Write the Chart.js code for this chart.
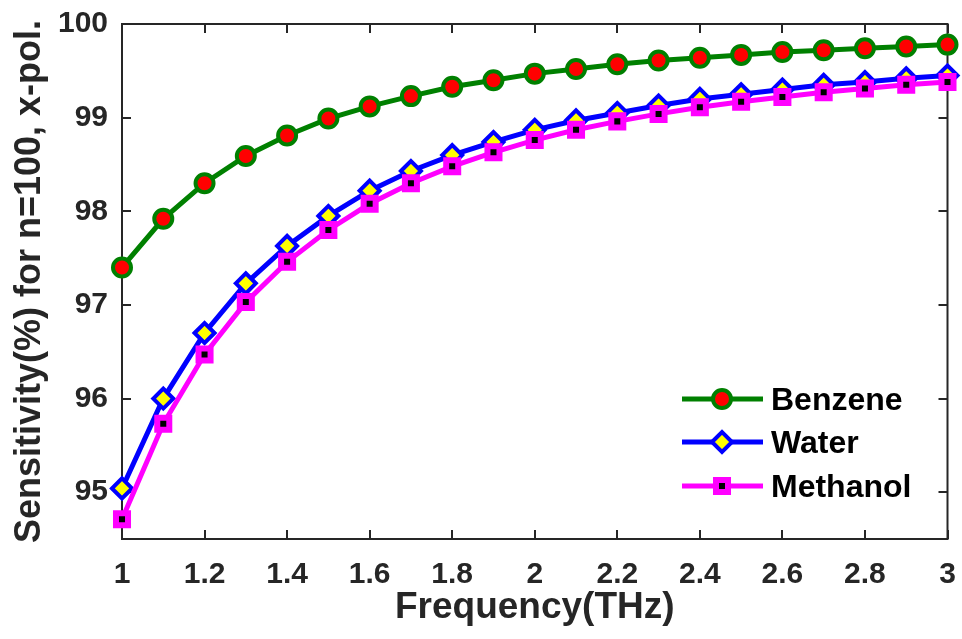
<!DOCTYPE html>
<html>
<head>
<meta charset="utf-8">
<script src="https://cdn.jsdelivr.net/npm/chart.js@4.4.0/dist/chart.umd.min.js"></script>
<style>
  html, body { margin: 0; padding: 0; background: #ffffff; }
  #wrap { width: 962px; height: 639px; position: relative; }
</style>
</head>
<body>
<div id="wrap"><canvas id="c" width="962" height="639"></canvas></div>
<script>
const freq = [1.0, 1.1, 1.2, 1.3, 1.4, 1.5, 1.6, 1.7, 1.8, 1.9, 2.0, 2.1, 2.2, 2.3, 2.4, 2.5, 2.6, 2.7, 2.8, 2.9, 3.0];
const benzene = [97.40, 97.92, 98.30, 98.59, 98.81, 98.99, 99.12, 99.23, 99.33, 99.40, 99.47, 99.52, 99.57, 99.61, 99.64, 99.67, 99.70, 99.72, 99.74, 99.76, 99.78];
const water = [95.04, 96.00, 96.70, 97.23, 97.63, 97.95, 98.22, 98.43, 98.60, 98.74, 98.87, 98.97, 99.05, 99.13, 99.20, 99.25, 99.30, 99.35, 99.38, 99.42, 99.45];
const methanol = [94.71, 95.73, 96.47, 97.03, 97.46, 97.80, 98.08, 98.30, 98.48, 98.63, 98.76, 98.87, 98.96, 99.04, 99.11, 99.17, 99.22, 99.27, 99.31, 99.35, 99.38];
const seriesNames = ['Benzene', 'Water', 'Methanol'];
const xTickValues = [1, 1.2, 1.4, 1.6, 1.8, 2, 2.2, 2.4, 2.6, 2.8, 3];
const yTickValues = [95, 96, 97, 98, 99, 100];
const xTitle = 'Frequency(THz)';
const yTitle = 'Sensitivity(%) for n=100, x-pol.';

const FONT = "'Liberation Sans', Arial, Helvetica, sans-serif";
const AXIS_COLOR = '#262626';

function pts(ys) { return freq.map((x, i) => ({ x: x, y: ys[i] })); }

const styles = [
  { line: '#008000', fill: '#ff0000', shape: 'circle', radius: 9, bw: 4 },
  { line: '#0000ff', fill: '#ffff00', shape: 'rectRot', radius: 10, bw: 4 },
  { line: '#ff00ff', fill: '#000000', shape: 'rect', radius: 8.5, bw: 6 }
];
const seriesData = [benzene, water, methanol];

const frameAndLegend = {
  id: 'frameAndLegend',
  beforeDatasetsDraw(chart) {
    const ctx = chart.ctx;
    const a = chart.chartArea;
    const xs = chart.scales.x, ys = chart.scales.y;
    ctx.save();
    ctx.strokeStyle = AXIS_COLOR;
    ctx.lineWidth = 2;
    ctx.strokeRect(a.left, a.top, a.right - a.left, a.bottom - a.top);
    const tl = 9;
    ctx.beginPath();
    xTickValues.forEach(v => {
      const px = Math.round(xs.getPixelForValue(v));
      ctx.moveTo(px, a.bottom); ctx.lineTo(px, a.bottom - tl);
      ctx.moveTo(px, a.top); ctx.lineTo(px, a.top + tl);
    });
    yTickValues.forEach(v => {
      const py = Math.round(ys.getPixelForValue(v));
      ctx.moveTo(a.left, py); ctx.lineTo(a.left + tl, py);
      ctx.moveTo(a.right, py); ctx.lineTo(a.right - tl, py);
    });
    ctx.stroke();
    ctx.restore();
  },
  afterDraw(chart) {
    const ctx = chart.ctx;
    const rows = [399, 442, 486];
    const x0 = 682, x1 = 763, xm = 722, xt = 771;
    ctx.save();
    chart.data.datasets.forEach((ds, i) => {
      const y = rows[i];
      ctx.strokeStyle = ds.borderColor;
      ctx.lineWidth = ds.borderWidth;
      ctx.beginPath();
      ctx.moveTo(x0, y); ctx.lineTo(x1, y);
      ctx.stroke();
      ctx.fillStyle = ds.pointBackgroundColor;
      ctx.strokeStyle = ds.pointBorderColor;
      ctx.lineWidth = ds.pointBorderWidth;
      Chart.helpers.drawPoint(ctx, {
        pointStyle: ds.pointStyle,
        radius: ds.pointRadius,
        borderWidth: ds.pointBorderWidth,
        rotation: 0
      }, xm, y);
      ctx.fillStyle = '#000000';
      ctx.font = "bold 32px " + FONT;
      ctx.textBaseline = 'middle';
      ctx.textAlign = 'left';
      ctx.fillText(ds.label, xt, y + 2);
    });
    ctx.restore();
  }
};

function zeroPad(s) { s.paddingTop = 0; s.paddingBottom = 0; s.paddingLeft = 0; s.paddingRight = 0; }

const chart = new Chart(document.getElementById('c'), {
  type: 'line',
  data: {
    datasets: seriesNames.map((name, i) => ({
      label: name,
      data: pts(seriesData[i]),
      borderColor: styles[i].line,
      borderWidth: 5,
      pointStyle: styles[i].shape,
      pointRadius: styles[i].radius,
      pointHoverRadius: styles[i].radius,
      pointBorderWidth: styles[i].bw,
      pointBorderColor: styles[i].line,
      pointBackgroundColor: styles[i].fill,
      tension: 0,
      fill: false,
      clip: false,
      order: 3 - i
    }))
  },
  options: {
    responsive: false,
    animation: false,
    devicePixelRatio: 1,
    layout: { padding: { left: 0, right: 11, top: 24, bottom: 0 } },
    plugins: {
      legend: { display: false },
      tooltip: { enabled: false }
    },
    scales: {
      x: {
        type: 'linear',
        min: 1, max: 3,
        afterBuildTicks(s) { s.ticks = xTickValues.map(v => ({ value: v })); },
        afterFit(s) { s.height = 100; zeroPad(s); },
        grid: { display: false, drawTicks: false, tickLength: 0 },
        border: { display: false },
        ticks: {
          color: AXIS_COLOR,
          padding: 18,
          maxRotation: 0,
          autoSkip: false,
          font: { family: FONT, size: 30, weight: 'bold' },
          callback: v => String(v)
        },
        title: {
          display: true,
          text: xTitle,
          color: AXIS_COLOR,
          padding: { top: 0, bottom: 9 },
          font: { family: FONT, size: 37, weight: 'bold' }
        }
      },
      y: {
        type: 'linear',
        min: 94.5, max: 100,
        afterBuildTicks(s) { s.ticks = yTickValues.map(v => ({ value: v })); },
        afterFit(s) { s.width = 122; zeroPad(s); },
        grid: { display: false, drawTicks: false, tickLength: 0 },
        border: { display: false },
        ticks: {
          color: AXIS_COLOR,
          padding: 14,
          autoSkip: false,
          font: { family: FONT, size: 30, weight: 'bold' },
          callback: v => String(v)
        },
        title: {
          display: true,
          text: yTitle,
          color: AXIS_COLOR,
          padding: { top: 8, bottom: 0 },
          font: { family: FONT, size: 36, weight: 'bold' }
        }
      }
    }
  },
  plugins: [frameAndLegend]
});
</script>
</body>
</html>
